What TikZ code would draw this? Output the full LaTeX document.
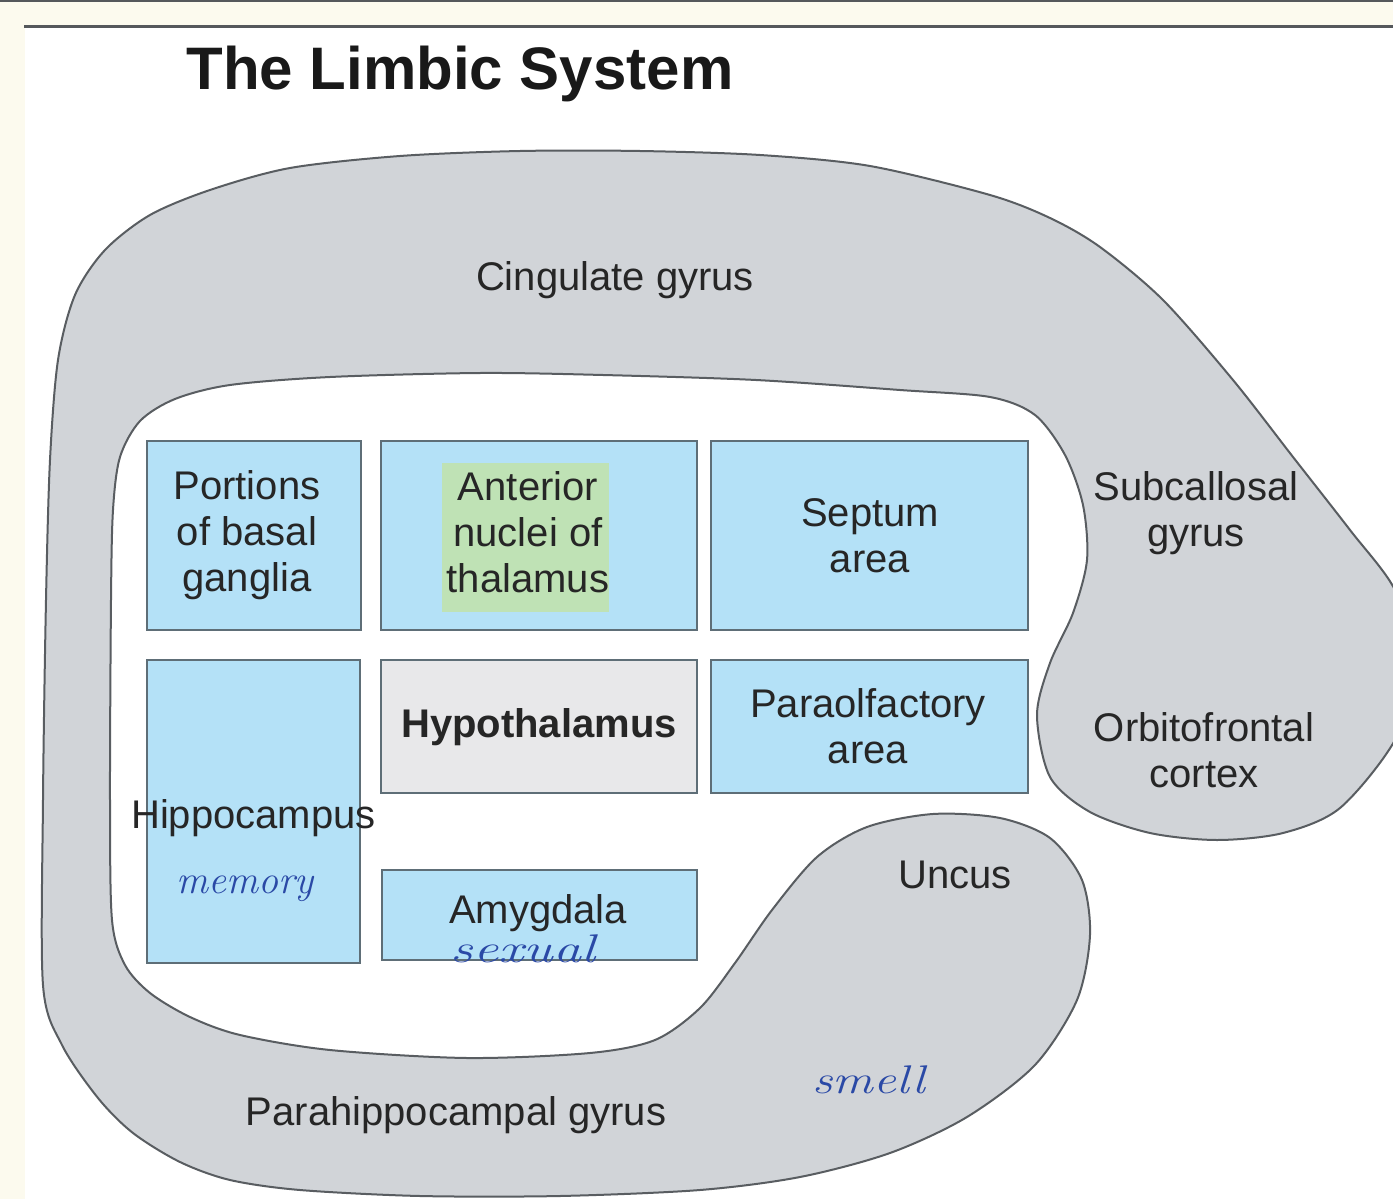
\documentclass[tikz,border=0pt]{standalone}
\usepackage{fontspec}
\setsansfont{Liberation Sans}
\definecolor{paper}{HTML}{FCFAEE}
\definecolor{rule}{HTML}{55585B}
\definecolor{lobe}{HTML}{D1D4D8}
\definecolor{lobeedge}{HTML}{595D61}
\definecolor{cellblue}{HTML}{B4E1F7}
\definecolor{celledge}{HTML}{5E6E77}
\definecolor{hypo}{HTML}{E8E8EA}
\definecolor{hilite}{HTML}{BFE2B5}
\definecolor{ink}{HTML}{262626}
\definecolor{pen}{HTML}{2A49A6}
\begin{document}
\begin{tikzpicture}[x=1pt,y=-1pt,
  region/.style={fill=lobe,draw=lobeedge,line width=2pt},
  cell/.style={draw=celledge,line width=2.4pt,fill=cellblue,inner sep=0pt},
  lbl/.style={font=\sffamily\fontsize{40}{46}\selectfont,text=ink,align=center,inner sep=0pt},
  note/.style={font=\rmfamily\itshape\fontsize{40}{40}\selectfont,text=pen,inner sep=0pt}]
\useasboundingbox (0,0) rectangle (1393,1199);
\clip (0,0) rectangle (1393,1199);

% page background and header rules
\fill[paper] (0,0) rectangle (1393,1199);
\fill[white] (25,27) rectangle (1393,1199);
\draw[rule,line width=2pt] (0,1) -- (1393,1);
\draw[rule,line width=2.5pt] (24,26.5) -- (1393,26.5);

\node[font=\sffamily\bfseries\fontsize{60}{66}\selectfont,text=black!90,inner sep=0pt,anchor=base]
  (title) at (460,90) {The Limbic System};

% the C-shaped ring of cortex: cingulate, subcallosal, orbitofrontal, uncus, parahippocampal
\draw[region] plot[smooth cycle,tension=0.5] coordinates {
  (43,985) (43,800) (46,600) (50,460) (58,360) (75,295) (105,250) (150,215)
  (210,190) (290,168) (400,156) (520,151) (640,151) (760,155) (870,166)
  (990,195) (1050,218) (1100,247) (1163,300) (1233,380) (1293,457) (1350,530)
  (1395,590) (1418,665) (1395,740) (1340,808) (1283,833) (1217,840) (1150,833)
  (1090,812) (1050,777) (1037,715) (1050,663) (1073,613) (1087,560) (1083,505)
  (1065,455) (1035,415) (990,397) (900,390) (756,380) (603,375) (480,373)
  (330,377) (230,385) (175,399) (140,421) (120,457) (113,510) (111,600)
  (110,800) (112,920) (125,965) (150,993) (190,1017) (240,1035) (330,1050)
  (467,1058) (590,1053) (655,1040) (700,1008) (735,963) (772,910) (817,857)
  (867,827) (933,814) (1000,818) (1050,838) (1082,880) (1090,935) (1077,1000)
  (1035,1065) (967,1117) (890,1153) (800,1177) (700,1190) (560,1196)
  (420,1196) (300,1190) (230,1180) (180,1162) (133,1133) (98,1098)
  (62,1045)};

% structures inside the ring
\node[cell,minimum width=214pt,minimum height=189pt] (basal) at (254,535.5) {};
\node[cell,minimum width=316pt,minimum height=189pt] (thal) at (539,535.5) {};
\node[cell,minimum width=317pt,minimum height=189pt] (sept) at (869.5,535.5) {};
\node[cell,minimum width=213pt,minimum height=303pt] (hippo) at (253.5,811.5) {};
\node[cell,fill=hypo,minimum width=316pt,minimum height=133pt] (hypoth) at (539,726.5) {};
\node[cell,minimum width=317pt,minimum height=133pt] (paraolf) at (869.5,726.5) {};
\node[cell,minimum width=315pt,minimum height=90pt] (amyg) at (539.5,915) {};

\fill[hilite] (442,463) rectangle (609,612);

\node[lbl] (tbasal) at (247,535.5) {Portions\\of basal\\ganglia};
\node[lbl] (tthal) at (528,532.5) {Anterior\\nuclei of\\thalamus};
\node[lbl] (tsept) at (870,535.5) {Septum\\area};
\node[lbl,font=\sffamily\bfseries\fontsize{40}{46}\selectfont] (thypo) at (539,727) {Hypothalamus};
\node[lbl] (tpara) at (868,726.5) {Paraolfactory\\area};
\node[lbl] (thippo) at (253.5,818) {Hippocampus};
\node[lbl] (tamyg) at (538,913) {Amygdala};

\node[lbl,anchor=base] (tcing) at (615,290) {Cingulate gyrus};
\node[lbl] (tsub) at (1196,512.7) {Subcallosal\\gyrus};
\node[lbl] (torb) at (1204,750.5) {Orbitofrontal\\cortex};
\node[lbl,anchor=base] (tunc) at (955,888) {Uncus};
\node[lbl,anchor=base] (tpara2) at (456,1125) {Parahippocampal gyrus};

% handwritten notes
\node[note,anchor=base] (nmem) at (245,893) {memory};
\node[note,anchor=base,xscale=1.4] (nsex) at (523,962) {sexual};
\node[note,anchor=base,xscale=1.27] (nsmell) at (869,1093) {smell};
\end{tikzpicture}
\end{document}
